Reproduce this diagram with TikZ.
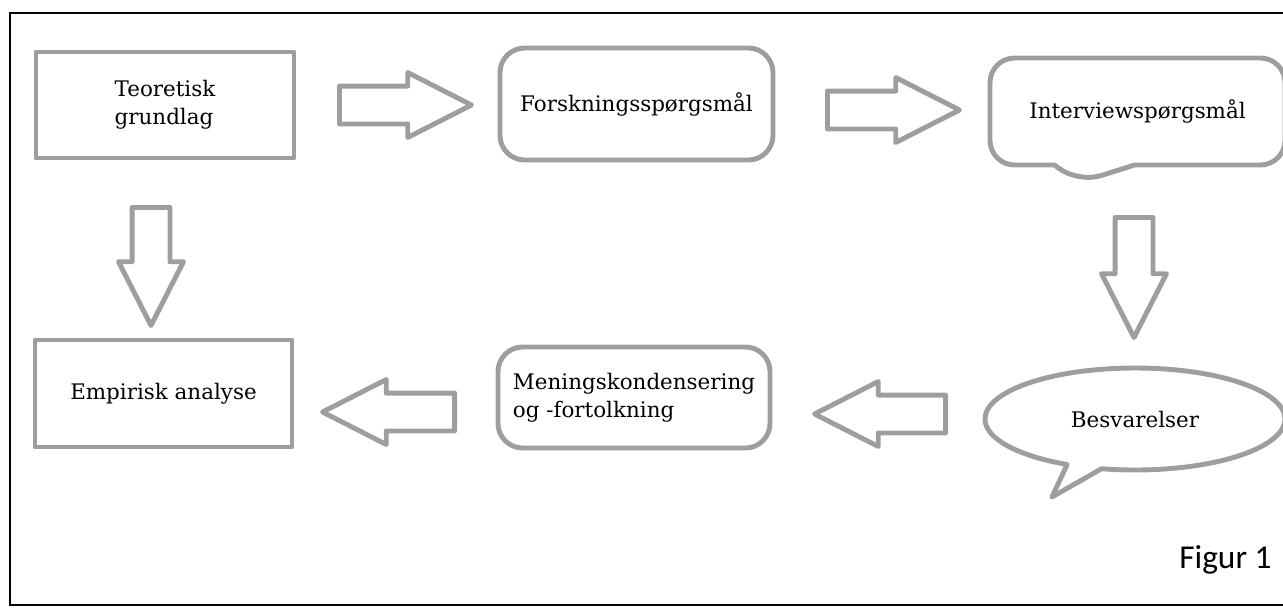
\documentclass[tikz,border=0pt]{standalone}
\usepackage{fontspec}
\setmainfont{DejaVu Serif}
\newfontfamily\figfont{Carlito}
\usetikzlibrary{shapes.arrows,shapes.callouts}

\begin{document}
\begin{tikzpicture}[
    sketch/.style={draw=black!38, line width=2.8pt, line join=round},
    box/.style={sketch, rectangle, align=left, font=\fontsize{12.2}{16}\selectfont},
    roundbox/.style={box, rounded corners=14pt},
    talkbox/.style={box, rectangle callout, rounded corners=14pt, callout pointer width=1.6cm},
    talkoval/.style={box, ellipse callout, callout pointer arc=14},
    fatarrow/.style={sketch, single arrow, anchor=tail, text height=0.33cm, text depth=0.33cm, inner sep=0pt, single arrow head extend=0.27cm, single arrow tip angle=54, minimum height=2.64cm}
]
\clip (0,0) rectangle (25.66,-12.14);
\draw[line width=1.2pt] (0.2,-0.26) rectangle (26,-12.1);

% Top row
\node[box, minimum width=5.16cm, minimum height=2.12cm] (teori) at (3.3,-2.1) {Teoretisk\\grundlag};
\node[roundbox, minimum width=5.46cm, minimum height=2.24cm] (forsk) at (12.73,-2.08) {Forskningsspørgsmål};
\node[talkbox, minimum width=5.9cm, minimum height=2.14cm, callout absolute pointer={(21.55,-3.66)}] (interview) at (22.75,-2.23) {Interviewspørgsmål};

% Bottom row
\node[box, minimum width=5.14cm, minimum height=2.14cm] (empiri) at (3.27,-7.87) {Empirisk analyse};
\node[roundbox, minimum width=5.44cm, minimum height=2.02cm] (mening) at (12.68,-7.95) {Meningskondensering\\og -fortolkning};
\node[talkoval, minimum width=6cm, minimum height=2.04cm, callout absolute pointer={(21.04,-9.94)}] (besvar) at (22.7,-8.38) {Besvarelser};

% Block arrows
\node[fatarrow] (pil1) at (6.74,-2.1) {};
\node[fatarrow] (pil2) at (16.5,-2.2) {};
\node[fatarrow, minimum height=2.36cm, rotate=-90] (pil3) at (3.02,-4.1) {};
\node[fatarrow, minimum height=2.4cm, rotate=-90] (pil4) at (22.68,-4.3) {};
\node[fatarrow, rotate=180] (pil5) at (9.14,-8.24) {};
\node[fatarrow, minimum height=2.62cm, rotate=180] (pil6) at (18.96,-8.28) {};

% Caption
\node[anchor=base east, font=\figfont\fontsize{19}{21}\selectfont, inner sep=0pt] (figur) at (25.44,-11.36) {Figur 1};

\end{tikzpicture}
\end{document}
